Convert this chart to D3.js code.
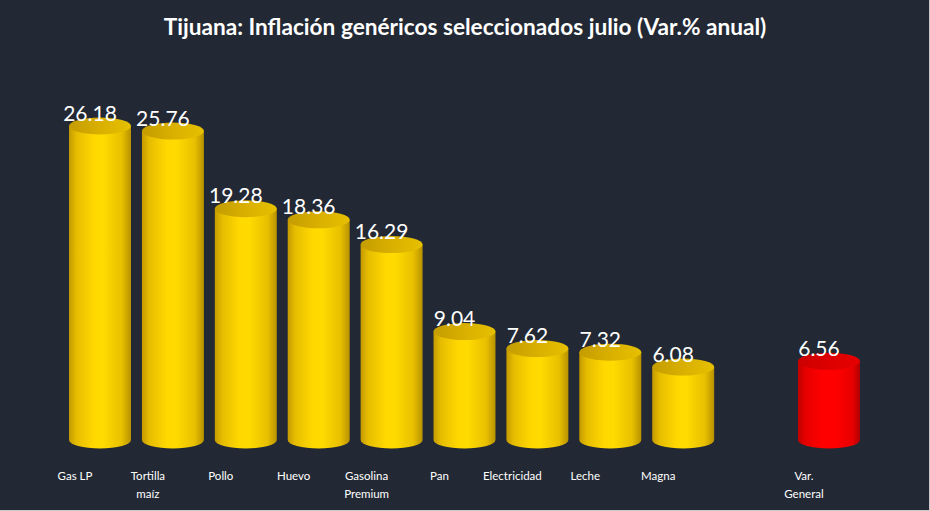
<!DOCTYPE html>
<html>
<head>
<meta charset="utf-8">
<script src="https://cdn.jsdelivr.net/npm/d3@7"></script>
<style>
  html, body { margin: 0; padding: 0; background: #232934; }
  svg { display: block; }
</style>
</head>
<body>
<svg id="chart" width="930" height="511"></svg>
<script>
// ---- data ----
const categories = ["Gas LP", "Tortilla maíz", "Pollo", "Huevo", "Gasolina Premium", "Pan", "Electricidad", "Leche", "Magna", "", "Var. General"];
const labelLines = [["Gas LP"], ["Tortilla", "maíz"], ["Pollo"], ["Huevo"], ["Gasolina", "Premium"], ["Pan"], ["Electricidad"], ["Leche"], ["Magna"], [""], ["Var.", "General"]];
const values = [26.18, 25.76, 19.28, 18.36, 16.29, 9.04, 7.62, 7.32, 6.08, null, 6.56];
const highlight = ["Var. General"];
const title = "Tijuana: Inflación genéricos seleccionados julio (Var.% anual)";

// ---- layout ----
const W = 930, H = 511;
const svg = d3.select("#chart");
const fontFam = "Lato, 'Open Sans', 'DejaVu Sans', sans-serif";

svg.append("rect").attr("width", W).attr("height", H).attr("fill", "#232934");

const x = d3.scaleBand().domain(categories).range([58.1, 870.9]).padding(0.15);
const y = d3.scaleLinear().domain([0, 26.18]).range([440, 126]);
const ry = 8.5;

// gradients
const defs = svg.append("defs");
function grad(id, stops) {
  const g = defs.append("linearGradient").attr("id", id).attr("x1", "0%").attr("x2", "100%").attr("y1", "0%").attr("y2", "0%");
  stops.forEach(s => g.append("stop").attr("offset", s[0]).attr("stop-color", s[1]));
}
grad("yBody", [["0%", "#c49a00"], ["12%", "#e6bd00"], ["40%", "#ffd800"], ["55%", "#ffdb00"], ["85%", "#e8c000"], ["100%", "#b89200"]]);
grad("yTop",  [["0%", "#c49c00"], ["50%", "#d9b000"], ["100%", "#e6c000"]]);
grad("rBody", [["0%", "#c00000"], ["12%", "#e60000"], ["40%", "#ff0000"], ["60%", "#ff0000"], ["88%", "#e80000"], ["100%", "#b00000"]]);
grad("rTop",  [["0%", "#cc0000"], ["50%", "#dd0000"], ["100%", "#e60000"]]);

const data = categories.map((c, i) => ({ c, v: values[i], lines: labelLines[i] }));
const bars = data.filter(d => d.v !== null);

const g = svg.append("g");
bars.forEach(d => {
  const isH = highlight.includes(d.c);
  const x0 = x(d.c), w = x.bandwidth(), rx = w / 2;
  const yt = y(d.v), yb = y(0);
  g.append("path")
    .attr("d", `M${x0},${yt} L${x0},${yb} A${rx},${ry} 0 0 0 ${x0 + w},${yb} L${x0 + w},${yt} Z`)
    .attr("fill", `url(#${isH ? "rBody" : "yBody"})`);
  g.append("ellipse")
    .attr("cx", x0 + rx).attr("cy", yt).attr("rx", rx).attr("ry", ry)
    .attr("fill", `url(#${isH ? "rTop" : "yTop"})`);
  g.append("text")
    .attr("x", x0 + rx - 10).attr("y", yt - ry + 3)
    .attr("text-anchor", "middle")
    .attr("fill", "#ffffff")
    .style("font-family", fontFam)
    .style("font-size", "21px")
    .text(d.v.toFixed(2));
});

// category labels
const lab = svg.append("g");
data.forEach(d => {
  const t = lab.append("text")
    .attr("text-anchor", "middle")
    .attr("fill", "#ffffff")
    .style("font-family", fontFam)
    .style("font-size", "11.5px");
  d.lines.forEach((ln, j) => {
    t.append("tspan").attr("x", x(d.c) + x.bandwidth() / 2 - 25).attr("y", 480 + j * 18).text(ln);
  });
});

// title
const tt = svg.append("text")
  .attr("x", 465).attr("y", 35)
  .attr("text-anchor", "middle")
  .attr("fill", "#ffffff")
  .style("font-family", fontFam)
  .style("font-weight", "bold")
  .style("font-size", "20px")
  .text(title);
const tw = tt.node().getComputedTextLength();
tt.style("font-size", (20 * 603 / tw).toFixed(2) + "px");

// thin frame lines at edges
svg.append("line").attr("x1", 0).attr("x2", W).attr("y1", H - 0.5).attr("y2", H - 0.5).attr("stroke", "#c8c8c8").attr("stroke-width", 1);
svg.append("line").attr("x1", W - 0.5).attr("x2", W - 0.5).attr("y1", 0).attr("y2", H).attr("stroke", "#c8c8c8").attr("stroke-width", 1);
</script>
</body>
</html>
